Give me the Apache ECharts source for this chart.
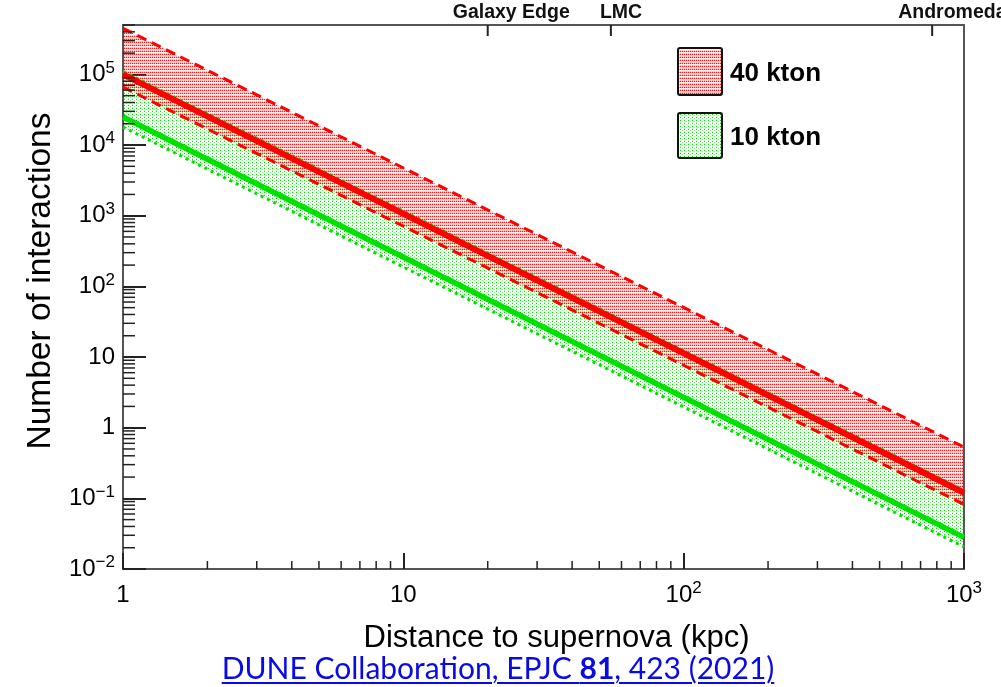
<!DOCTYPE html>
<html>
<head>
<meta charset="utf-8">
<script src="https://cdn.jsdelivr.net/npm/echarts@6/dist/echarts.min.js"></script>
<style>
html,body{margin:0;padding:0;background:#fff;}
#chart{position:absolute;left:0;top:0;width:1001px;height:687px;}
#cite{position:absolute;left:0;width:996px;top:650px;text-align:center;font-family:Lato,"Open Sans",sans-serif;font-size:30px;line-height:34px;color:#0a0ae6;}
#cite a{color:#0a0ae6;text-decoration:underline;text-underline-offset:3px;text-decoration-thickness:2px;}
</style>
</head>
<body>
<div id="chart"></div>
<div id="cite"><a>DUNE Collaboration, EPJC <b>81</b>, 423 (2021)</a></div>
<script>
// ---- data ----
const distances = [1, 1000];                 // kpc
const band40Upper = [4.5e5, 0.53];
const band40Lower = [6.6e4, 0.082];
const central40   = [1.0e5, 0.12];
const band10Upper = [1.1e5, 0.13];
const band10Lower = [1.8e4, 0.0205];
const central10   = [2.5e4, 0.028];
const seriesNames = ['40 kton', '10 kton'];

const xTickValues = [1, 10, 100, 1000];
const xTickLabels = ['1', '10', '10^2', '10^3'];
const yTickValues = [0.01, 0.1, 1, 10, 100, 1000, 10000, 100000];
const yTickLabels = ['10^\u22122', '10^\u22121', '1', '10', '10^2', '10^3', '10^4', '10^5'];
const minorMultipliers = [2, 3, 4, 5, 6, 7, 8, 9];
const xDecades = [1, 10, 100];
const yDecades = [0.01, 0.1, 1, 10, 100, 1000, 10000, 100000];

const landmarkNames = ['Galaxy Edge', 'LMC', 'Andromeda'];
const landmarkKpc = [20, 55, 770];

// ---- styling ----
const X_MIN = 1, X_MAX = 1000, Y_MIN = 0.01, Y_MAX = 5e5;
const landmarkLabelShift = [-35, -11, -34];
const FONT = '"Liberation Sans", Arial, Helvetica, sans-serif';
const RED = '#ff0000', GREEN = '#00e000';

function makePattern(w, h, cells, rgb) {
  const c = document.createElement('canvas');
  c.width = w; c.height = h;
  const ctx = c.getContext('2d');
  cells.forEach(([x, y, a]) => {
    ctx.fillStyle = 'rgba(' + rgb + ',' + a + ')';
    ctx.fillRect(x, y, 1, 1);
  });
  return c;
}
const redCells = [
  [0,0,0.9],[1,0,0.35],[2,0,0.9],[3,0,0.35],
  [0,1,0.08],[1,1,0.08],[2,1,0.08],[3,1,0.08],
  [0,2,0.3],[1,2,0.05],[2,2,0.3],[3,2,0.05]
];
const greenCells = [[0,0,1],[2,1,0.45],[0,2,0.2]];
function redFill() { return {image: makePattern(4, 3, redCells, '255,0,0'), repeat: 'repeat'}; }
function greenFill() { return {image: makePattern(4, 3, greenCells, '0,225,0'), repeat: 'repeat'}; }

function richLabel(s) {
  if (s.indexOf('^') >= 0) {
    const p = s.split('^');
    return '{b|' + p[0] + '}{s|' + p[1] + '}';
  }
  return '{b|' + s + '}';
}
function lookup(values, labels, v) {
  const lv = Math.log10(v);
  for (let i = 0; i < values.length; i++) {
    if (Math.abs(Math.log10(values[i]) - lv) < 1e-6) return richLabel(labels[i]);
  }
  return '';
}
const rich = {
  b: {fontSize: 24, fontFamily: FONT, color: '#000', lineHeight: 30},
  s: {fontSize: 17, fontFamily: FONT, color: '#000', lineHeight: 17, verticalAlign: 'top'}
};

function pairs(xs, ys) { return xs.map((x, i) => [x, ys[i]]); }

const xMinorData = [];
xDecades.forEach(d => minorMultipliers.forEach(m => xMinorData.push([d * m, Y_MIN])));
const yMinorData = [];
yDecades.forEach(d => minorMultipliers.forEach(m => { const v = d * m; if (v <= Y_MAX) yMinorData.push([X_MIN, v]); }));

function bandSeries(upper, lower, fill, z) {
  return {
    type: 'custom', z: z, silent: true,
    data: [[distances[0], upper[0]]],
    renderItem: function (params, api) {
      const pts = [];
      distances.forEach((d, i) => pts.push(api.coord([d, upper[i]])));
      for (let i = distances.length - 1; i >= 0; i--) pts.push(api.coord([distances[i], lower[i]]));
      return {type: 'polygon', shape: {points: pts}, style: {fill: fill, stroke: 'none'}};
    }
  };
}

// legend boxes (pixel layout)
const legendBoxes = [
  {x: 678, y: 48, h: 47, fill: redFill()},
  {x: 678, y: 113, h: 45, fill: greenFill()}
];

const chart = echarts.init(document.getElementById('chart'), null, {renderer: 'canvas'});
chart.setOption({
  animation: false,
  backgroundColor: '#fff',
  grid: {left: 123, right: 37, top: 25, bottom: 118, show: true, borderColor: '#555', borderWidth: 2, backgroundColor: 'transparent'},
  xAxis: {
    type: 'log', logBase: 10, min: X_MIN, max: X_MAX, interval: 1,
    axisLine: {show: true, lineStyle: {color: '#555', width: 2}},
    axisTick: {show: true, inside: true, length: 16, lineStyle: {color: '#222', width: 2}},
    splitLine: {show: false},
    axisLabel: {margin: 11, formatter: v => lookup(xTickValues, xTickLabels, v), rich: rich},
    name: 'Distance to supernova (kpc)', nameLocation: 'middle', nameGap: 54,
    nameTextStyle: {fontSize: 31, fontFamily: FONT, color: '#000', padding: [0, 0, 0, 26]}
  },
  yAxis: {
    type: 'log', logBase: 10, min: Y_MIN, max: Y_MAX, interval: 1,
    axisLine: {show: true, lineStyle: {color: '#555', width: 2}},
    axisTick: {show: true, inside: true, length: 23, lineStyle: {color: '#222', width: 2}},
    splitLine: {show: false},
    axisLabel: {margin: 8, showMaxLabel: false, formatter: v => lookup(yTickValues, yTickLabels, v), rich: rich},
    name: 'Number of interactions', nameLocation: 'middle', nameGap: 64, nameRotate: 90,
    nameTextStyle: {fontSize: 33.5, fontFamily: FONT, color: '#000', padding: [0, 0, 0, 32]}
  },
  series: [
    bandSeries(band10Upper, band10Lower, greenFill(), 1),
    bandSeries(band40Upper, band40Lower, redFill(), 2),
    {type: 'line', name: seriesNames[1] + ' upper', data: pairs(distances, band10Upper), showSymbol: false, z: 3,
     lineStyle: {color: GREEN, width: 3, type: [3, 4]}},
    {type: 'line', name: seriesNames[1] + ' lower', data: pairs(distances, band10Lower), showSymbol: false, z: 3,
     lineStyle: {color: GREEN, width: 3, type: [3, 4]}},
    {type: 'line', name: seriesNames[1], data: pairs(distances, central10), showSymbol: false, z: 4,
     lineStyle: {color: GREEN, width: 5.5}},
    {type: 'line', name: seriesNames[0] + ' upper', data: pairs(distances, band40Upper), showSymbol: false, z: 5,
     lineStyle: {color: RED, width: 3, type: [10, 6]}},
    {type: 'line', name: seriesNames[0] + ' lower', data: pairs(distances, band40Lower), showSymbol: false, z: 5,
     lineStyle: {color: RED, width: 3, type: [10, 6]}},
    {type: 'line', name: seriesNames[0], data: pairs(distances, central40), showSymbol: false, z: 6,
     lineStyle: {color: RED, width: 6}},
    // minor ticks (log decades)
    {type: 'custom', silent: true, z: 10, data: xMinorData,
     renderItem: function (params, api) {
       const p = api.coord([api.value(0), api.value(1)]);
       return {type: 'line', shape: {x1: p[0], y1: p[1], x2: p[0], y2: p[1] - 8}, style: {stroke: '#222', lineWidth: 1.5}};
     }},
    {type: 'custom', silent: true, z: 10, data: yMinorData,
     renderItem: function (params, api) {
       const p = api.coord([api.value(0), api.value(1)]);
       return {type: 'line', shape: {x1: p[0], y1: p[1], x2: p[0] + 12, y2: p[1]}, style: {stroke: '#222', lineWidth: 1.5}};
     }},
    // landmark ticks on the top frame
    {type: 'custom', silent: true, z: 10, data: landmarkKpc.map(k => [k, Y_MAX]),
     renderItem: function (params, api) {
       const p = api.coord([api.value(0), api.value(1)]);
       const i = params.dataIndex;
       return {type: 'group', children: [
         {type: 'line', shape: {x1: p[0], y1: p[1], x2: p[0], y2: p[1] + 11}, style: {stroke: '#222', lineWidth: 2}},
         {type: 'text', x: p[0] + landmarkLabelShift[i], y: p[1] - 2,
          style: {text: landmarkNames[i], fill: '#111', font: 'bold 19.5px ' + FONT, textAlign: 'left', textVerticalAlign: 'bottom'}}
       ]};
     }},
    // legend
    {type: 'custom', silent: true, z: 20, data: [[X_MIN, Y_MAX], [X_MIN, Y_MAX]],
     renderItem: function (params, api) {
       const b = legendBoxes[params.dataIndex];
       return {type: 'group', children: [
         {type: 'rect', shape: {x: b.x, y: b.y, width: 44, height: b.h, r: 2}, style: {fill: '#fff', stroke: 'none'}},
         {type: 'rect', shape: {x: b.x, y: b.y, width: 44, height: b.h, r: 2}, style: {fill: b.fill, stroke: '#111', lineWidth: 2}},
         {type: 'text', x: b.x + 52, y: b.y + b.h / 2 + 2,
          style: {text: seriesNames[params.dataIndex], fill: '#000', font: 'bold 26px ' + FONT, textAlign: 'left', textVerticalAlign: 'middle'}}
       ]};
     }}
  ]
});
</script>
</body>
</html>
